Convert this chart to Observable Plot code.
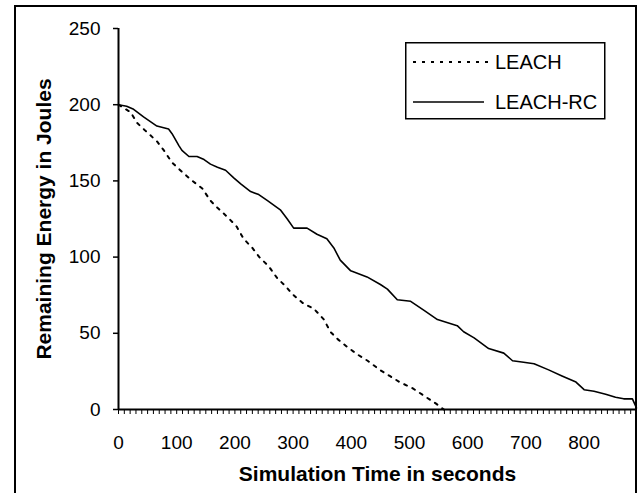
<!DOCTYPE html>
<html>
<head>
<meta charset="utf-8">
<script src="https://cdn.jsdelivr.net/npm/d3@7"></script>
<script src="https://cdn.jsdelivr.net/npm/@observablehq/plot@0.6"></script>
<style>
  html, body { margin: 0; padding: 0; background: #fff; }
  #wrap { position: relative; width: 641px; height: 493px; overflow: hidden; font-family: "Liberation Sans", Arial, sans-serif; }
  #frame { position: absolute; left: 14px; top: 5px; width: 619px; height: 520px; border: 2px solid #000; pointer-events: none; }
  #legend { position: absolute; left: 405px; top: 42px; }
</style>
</head>
<body>
<div id="wrap">
  <div id="chart"></div>
  <div id="frame"></div>
  <div id="legend"></div>
</div>
<script>
// ---- data ----
const seriesNames = ["LEACH", "LEACH-RC"];

const leachTime   = [0, 21, 32, 46, 66, 78, 92, 109, 127, 144, 158, 171, 188, 203, 215, 230, 242, 258, 273, 287, 298, 316, 336, 353, 364, 377, 393, 411, 428, 449, 466, 483, 505, 525, 545, 559];
const leachEnergy = [200, 195, 188, 183, 176, 170, 162, 156, 150, 145, 137, 132, 126, 120, 112, 106, 100, 94, 86, 81, 76, 70, 66, 59, 51, 46, 41, 36, 32, 26, 22, 18, 14, 9, 4, 0];

const leachRcTime   = [0, 14, 26, 43, 66, 86, 92, 104, 109, 121, 135, 147, 158, 170, 184, 198, 210, 227, 241, 256, 278, 290, 301, 324, 341, 358, 370, 381, 399, 427, 450, 462, 479, 502, 525, 548, 582, 593, 611, 636, 662, 677, 696, 714, 739, 762, 786, 800, 817, 837, 854, 868, 883, 890];
const leachRcEnergy = [200, 199, 197, 192, 186, 184, 181, 173, 170, 166, 166, 164, 161, 159, 157, 152, 148, 143, 141, 137, 131, 125, 119, 119, 115, 112, 106, 98, 91, 87, 82, 79, 72, 71, 65, 59, 55, 51, 47, 40, 37, 32, 31, 30, 26, 22, 18, 13, 12, 10, 8, 7, 7, 1];

const xTickLabels = [0, 100, 200, 300, 400, 500, 600, 700, 800];
const yTickLabels = [0, 50, 100, 150, 200, 250];
const xMinorTicks = d3.range(0, 891, 10);
const xTitle = "Simulation Time in seconds";
const yTitle = "Remaining Energy in Joules";

const leach = leachTime.map((t, i) => ({t, e: leachEnergy[i]}));
const leachRc = leachRcTime.map((t, i) => ({t, e: leachRcEnergy[i]}));

const DASH = "3,6";

const chart = Plot.plot({
  width: 641,
  height: 493,
  marginLeft: 118,
  marginRight: 5,
  marginTop: 28,
  marginBottom: 84,
  style: { fontFamily: "'Liberation Sans', Arial, sans-serif", fontSize: "19px", background: "transparent", color: "#000", overflow: "visible" },
  x: { domain: [0, 890], label: null },
  y: { domain: [0, 250], label: null },
  marks: [
    Plot.axisX(xMinorTicks, { tickSize: 5, tickPadding: 0, tickFormat: () => "", strokeWidth: 1, label: null }),
    Plot.axisX(xTickLabels, { tickSize: 0, tickPadding: 26, fontSize: 19, label: null }),
    Plot.axisY(yTickLabels, { tickSize: 5, tickPadding: 13, fontSize: 19, strokeWidth: 1.5, label: null }),
    Plot.ruleY([0], { strokeWidth: 2 }),
    Plot.ruleX([0], { strokeWidth: 2 }),
    Plot.line(leach, { x: "t", y: "e", stroke: "#000", strokeWidth: 2, strokeDasharray: DASH }),
    Plot.line(leachRc, { x: "t", y: "e", stroke: "#000", strokeWidth: 1.6 }),
    Plot.text([xTitle], { frameAnchor: "bottom", dy: 65, lineAnchor: "middle", textAnchor: "middle", fontSize: 21, fontWeight: "bold", text: d => d }),
    Plot.text([yTitle], { frameAnchor: "left", dx: -74, rotate: -90, lineAnchor: "middle", textAnchor: "middle", fontSize: 21, fontWeight: "bold", text: d => d })
  ]
});
document.getElementById("chart").appendChild(chart);

// legend
const lw = 199, lh = 76;
const lsvg = d3.select("#legend").append("svg").attr("width", lw + 2).attr("height", lh + 2);
lsvg.append("rect").attr("x", 0.75).attr("y", 0.75).attr("width", lw).attr("height", lh)
  .attr("fill", "#fff").attr("stroke", "#000").attr("stroke-width", 1.5);
const styles = [
  { dash: DASH, w: 2, len: 75 },
  { dash: null, w: 1.6, len: 71 }
];
seriesNames.forEach((name, i) => {
  const cy = 20 + i * 40;
  lsvg.append("line").attr("x1", 8).attr("x2", 8 + styles[i].len).attr("y1", cy).attr("y2", cy)
    .attr("stroke", "#000").attr("stroke-width", styles[i].w).attr("stroke-dasharray", styles[i].dash);
  lsvg.append("text").attr("x", 90).attr("y", cy).attr("dy", "0.36em")
    .attr("font-family", "'Liberation Sans', Arial, sans-serif").attr("font-size", 20).text(name);
});
</script>
</body>
</html>
